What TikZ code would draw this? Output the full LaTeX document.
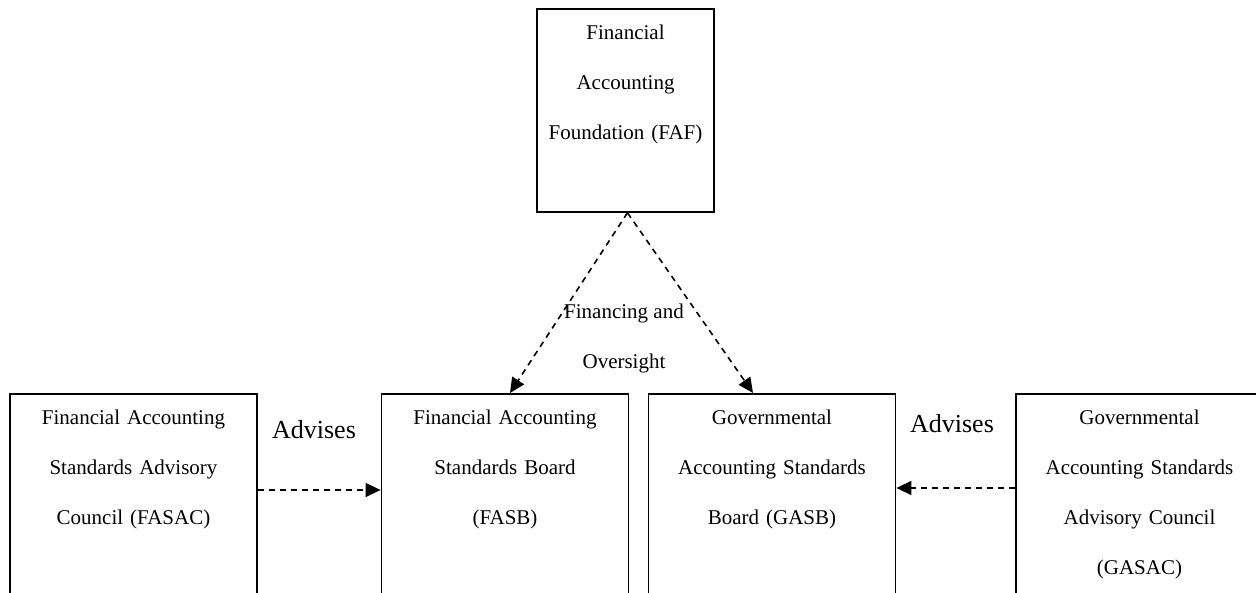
\documentclass[tikz,border=0pt]{standalone}
\usepackage{fontspec}
\setmainfont{Liberation Serif}
\usetikzlibrary{arrows.meta,positioning}

\begin{document}
\begin{tikzpicture}[
  x=1pt, y=1pt,
  >={Triangle[length=15pt,width=14pt]},
  orgbox/.style={draw, line width=1.8pt, anchor=north, align=center,
    inner xsep=4pt, inner ysep=16pt, text height=15pt, text depth=250pt,
    text width=239pt, font=\fontsize{21}{50}\selectfont},
  link/.style={->, dashed, dash pattern=on 6pt off 5pt, line width=1.6pt},
  tag/.style={font=\fontsize{26}{30}\selectfont},
]
  \useasboundingbox (0,0) rectangle (1256,593);

  % foundation on top
  \node[orgbox, text width=169pt, text depth=156pt] (faf) at (625.5,585)
       {Financial\\Accounting\\Foundation (FAF)};

  % the two boards and their advisory councils
  \node[orgbox] (fasac) at (133.5,200)
       {Financial Accounting\\Standards Advisory\\Council (FASAC)};
  \node[orgbox] (fasb) at (505,200)
       {Financial Accounting\\Standards Board\\(FASB)};
  \node[orgbox] (gasb) at (772,200)
       {Governmental\\Accounting Standards\\Board (GASB)};
  \node[orgbox] (gasac) at (1139.5,200)
       {Governmental\\Accounting Standards\\Advisory Council\\(GASAC)};

  % financing and oversight
  \draw[link] ([xshift=2pt]faf.south) -- ([xshift=5pt]fasb.north);
  \draw[link] ([xshift=2pt]faf.south) -- ([xshift=-19pt]gasb.north);
  \node[align=center, font=\fontsize{21}{50}\selectfont] (funding) at (624,255)
       {Financing and\\Oversight};

  % advisory links
  \draw[link] ([yshift=-97pt]fasac.north east) -- ([yshift=-97pt]fasb.north west);
  \draw[link] ([yshift=-95pt]gasac.north west) -- ([yshift=-95pt]gasb.north east);
  \node[tag] (advleft) at (314,163) {Advises};
  \node[tag] (advright) at (952,169) {Advises};
\end{tikzpicture}
\end{document}
